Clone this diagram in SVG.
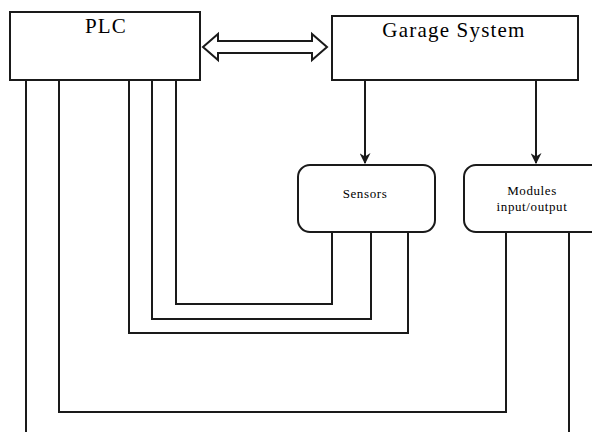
<svg xmlns="http://www.w3.org/2000/svg" width="592" height="432" viewBox="0 0 592 432">
<style>
.box{fill:#fff;stroke:#1a1a1a;stroke-width:2}
.ln{fill:none;stroke:#1a1a1a;stroke-width:2}
text{font-family:"Liberation Serif","Times New Roman",serif;fill:#000;text-anchor:middle}
.big{font-size:21px;letter-spacing:1.2px}
.sm{font-size:13px;letter-spacing:0.6px}
</style>
<defs>
<marker id="ah" viewBox="0 0 10 10" refX="9" refY="5" markerWidth="5.5" markerHeight="5.5" orient="auto" markerUnits="strokeWidth">
<path d="M0,0 L10,5 L0,10 L3,5 Z" fill="#1a1a1a"/>
</marker>
</defs>
<rect width="592" height="432" fill="#fff"/>
<g id="connectors">
<path class="ln" d="M203,47 L218,34 L218,41 L312,41 L312,34 L327,47 L312,60 L312,53 L218,53 L218,60 Z"/>
<line class="ln" x1="365" y1="80" x2="365" y2="163" marker-end="url(#ah)"/>
<line class="ln" x1="536" y1="80" x2="536" y2="163" marker-end="url(#ah)"/>
<path class="ln" d="M176,80 V304 H332 V232"/>
<path class="ln" d="M152,80 V319 H371 V232"/>
<path class="ln" d="M129,80 V333 H408 V232"/>
<path class="ln" d="M59,80 V412 H506 V232"/>
<path class="ln" d="M26,80 V432"/>
<path class="ln" d="M569,232 V432"/>
</g>
<g id="plc">
<rect class="box" x="10" y="12" width="190" height="68"/>
<text class="big" x="106" y="33">PLC</text>
</g>
<g id="garage">
<rect class="box" x="332" y="16" width="246" height="64"/>
<text class="big" x="454" y="37">Garage System</text>
</g>
<g id="sensors">
<rect class="box" x="298" y="165" width="137" height="67" rx="12"/>
<text class="sm" x="365" y="198">Sensors</text>
</g>
<g id="modules">
<rect class="box" x="464" y="165" width="140" height="67" rx="12"/>
<text class="sm" x="532" y="195">Modules</text>
<text class="sm" x="532" y="211">input/output</text>
</g>
</svg>
